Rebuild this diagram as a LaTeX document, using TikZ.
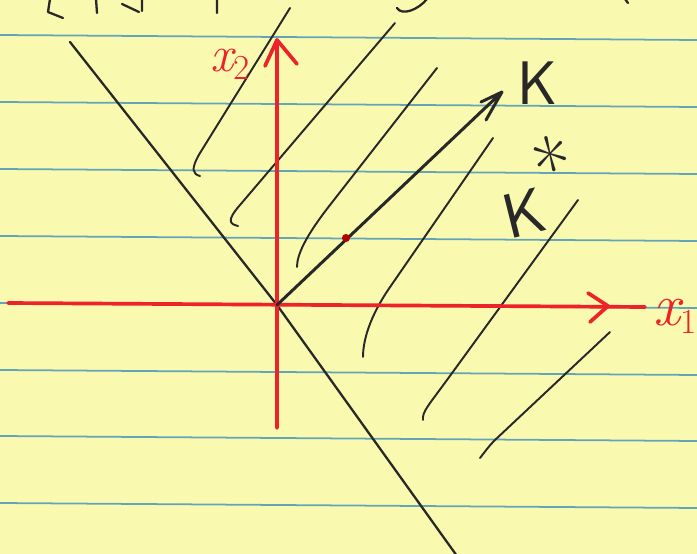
\documentclass[tikz,border=0pt]{standalone}
\usepackage{fontspec}
\definecolor{paper}{RGB}{250,249,176}
\definecolor{rule}{RGB}{98,165,185}
\definecolor{pen}{RGB}{236,36,42}
\definecolor{ink}{RGB}{40,40,40}
\begin{document}
\begin{tikzpicture}[x=0.02cm,y=-0.02cm,
  hatch/.style={ink,line width=1.1pt,line cap=round,line join=round},
  axis/.style={pen,line width=2.1pt,line cap=round,line join=round},
  lbl/.style={inner sep=0pt}]
\fill[paper] (0,0) rectangle (697,554);
\useasboundingbox (0,0) rectangle (697,554);
\foreach \y in {37,104,171,238,305,372,438,505}
  \draw[rule,line width=1pt] (0,\y-2) -- (697,\y+3);
% cut-off writing at the top edge
\draw[hatch,line width=1.3pt]
(50,-1)--(48,12)--(63,18) (96,-1)--(97,13) (122,4)--(139,12) (142,-1)--(142,11)
(217,-1)--(217,13) (427,-1)..controls (418,10) and (402,16)..(397,8) (625,-1)--(628,3);
\coordinate (O) at (277,305);
\coordinate (x1end) at (645,307);
\coordinate (x2end) at (277,40);
\coordinate (x1start) at (8,303);
\coordinate (x2start) at (277,428);
\coordinate (Ktip) at (502,92);
\coordinate (conetop) at (70,42);
\coordinate (conebot) at (457,556);
% cone boundary
\draw[hatch,line width=1.3pt] (conetop)--(O)--(conebot);
% hatching of K*
\draw[hatch]
(290,8)--(200,153)..controls (190,170) and (193,174)..(200,176)
(395,23)--(240,205)..controls (226,221) and (230,224)..(238,226)
(437,68)--(330,205)..controls (305,237) and (297,255)..(297,267)
(493,138)--(388,290)..controls (370,317) and (363,340)..(363,357)
(578,200)--(447,380)..controls (428,406) and (422,412)..(423,420)
(610,332)--(495,440)..controls (488,447) and (484,453)..(480,458);
% axes
\draw[axis] (x1start)--(x1end) (x2start)--(x2end);
\draw[axis] (588,293)--(608,306)--(590,322) (265,66)--(x2end)--(297,64);
\node[lbl,pen,anchor=base west,font=\fontsize{34}{34}\selectfont\itshape] (xone) at (653,325) {x\raisebox{-5pt}{\fontsize{20}{20}\selectfont\upshape 1}};
\node[lbl,pen,anchor=base west,font=\fontsize{29}{29}\selectfont\itshape] (xtwo) at (210,72) {x\raisebox{-4pt}{\fontsize{20}{20}\selectfont\upshape 2}};
% the ray K
\draw[hatch,line width=1.7pt] (O)--(Ktip) (481,102)--(Ktip)--(486,120);
\fill[red!70!black] (346,238) circle (2.3pt);
\node[lbl,ink,anchor=base west,font=\fontsize{35}{35}\selectfont\sffamily] (K) at (517,105) {K};
\node[lbl,ink,rotate=14,anchor=base west,font=\fontsize{36}{36}\selectfont\sffamily] (Kstar) at (509,240) {K\kern0pt\raisebox{16pt}{\fontsize{48}{48}\selectfont\rmfamily *}};
\end{tikzpicture}
\end{document}
